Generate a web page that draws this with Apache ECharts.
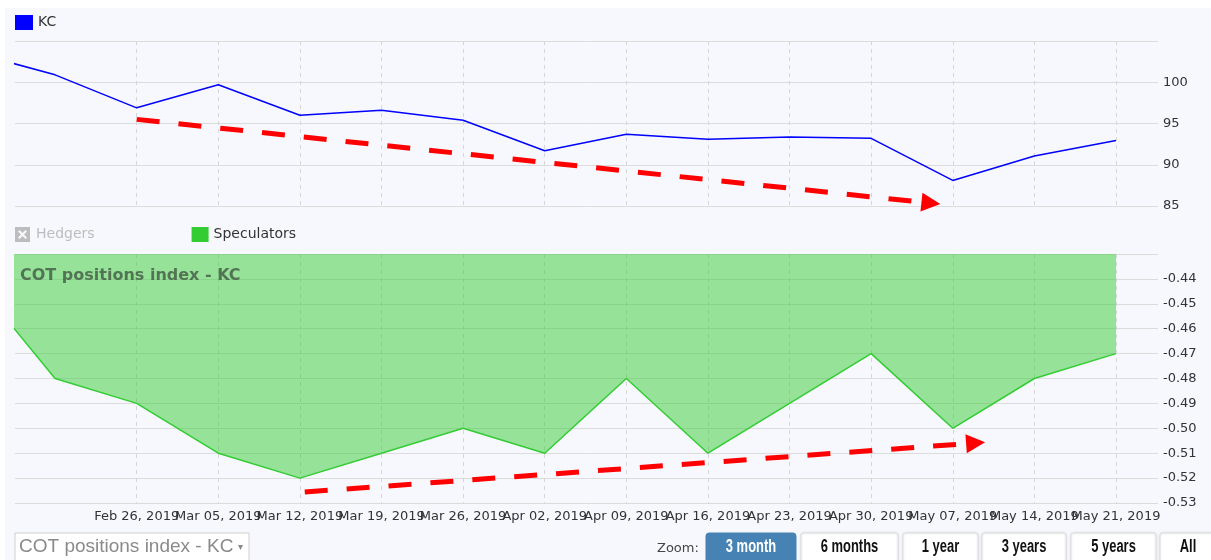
<!DOCTYPE html>
<html style="height: 100%">
<head>
    <meta charset="utf-8">
    <title>COT positions index - KC</title>
    <script src="https://cdn.jsdelivr.net/npm/echarts@6/dist/echarts.min.js"></script>
</head>
<body style="height: 100%; margin: 0; background: #fff">
    <div id="chart" style="width: 1211px; height: 560px"></div>
    <script>
        // weekly report dates (first one sits left of the visible range)
        const weeks = ['2019-02-12', '2019-02-19', '2019-02-26', '2019-03-05', '2019-03-12', '2019-03-19',
            '2019-03-26', '2019-04-02', '2019-04-09', '2019-04-16', '2019-04-23', '2019-04-30',
            '2019-05-07', '2019-05-14', '2019-05-21'];
        const kcPrice = [103.6, 100.9, 96.9, 99.7, 96.0, 96.6, 95.4, 91.7, 93.7, 93.1, 93.35, 93.2, 88.1, 91.05, 92.95];
        const specIndex = [-0.44, -0.48, -0.49, -0.51, -0.52, -0.51, -0.50, -0.51, -0.48, -0.51, -0.49, -0.47, -0.50, -0.48, -0.47];
        const tickDates = weeks.slice(2);
        // hand drawn trend arrows: [date, value] start and end
        const kcTrend = [['2019-02-26T00:00', 95.5], ['2019-05-05T03:00', 85.35]];
        const specTrend = [['2019-03-12T10:00', -0.5256], ['2019-05-08T23:00', -0.5059]];
        const zoomButtons = ['3 month', '6 months', '1 year', '3 years', '5 years', 'All'];
        const months = ['Jan', 'Feb', 'Mar', 'Apr', 'May', 'Jun', 'Jul', 'Aug', 'Sep', 'Oct', 'Nov', 'Dec'];

        // dates -> UTC ms, used as plain numbers on a value axis
        function ts(s) {
            const [d, t] = s.split('T');
            const [y, m, day] = d.split('-').map(Number);
            const [hh, mm] = (t || '00:00').split(':').map(Number);
            return Date.UTC(y, m - 1, day, hh, mm);
        }
        function pad(n) { return n < 10 ? '0' + n : '' + n; }

        const xMin = ts('2019-02-15T13:30');
        const xMax = ts('2019-05-24T14:30');
        const ticks = tickDates.map(ts);
        // blank labels at both ends so echarts doesn't drop the first/last date label
        const labelValues = [xMin].concat(ticks, [xMax]);
        const font = 'DejaVu Sans';

        function xAxis(idx, withLabels) {
            return {
                type: 'value', gridIndex: idx, min: xMin, max: xMax,
                axisLine: { show: false },
                axisTick: { show: false, customValues: ticks },
                axisLabel: {
                    show: withLabels, customValues: labelValues, hideOverlap: false,
                    margin: 7, fontSize: 13, color: '#333', fontFamily: font,
                    formatter: v => {
                        if (v === xMin || v === xMax) return '';
                        const d = new Date(v);
                        return months[d.getUTCMonth()] + ' ' + pad(d.getUTCDate()) + ', ' + d.getUTCFullYear();
                    }
                },
                splitLine: { show: true, lineStyle: { color: '#d6d6d6', type: [4, 4] } }
            };
        }
        function yAxis(idx, min, max, interval, digits) {
            return {
                type: 'value', gridIndex: idx, position: 'right', min: min, max: max, interval: interval,
                axisLine: { show: false }, axisTick: { show: false },
                axisLabel: {
                    showMaxLabel: false, margin: 5, fontSize: 13, color: '#333', fontFamily: font,
                    formatter: v => v.toFixed(digits)
                },
                splitLine: { lineStyle: { color: '#dcdcdc' } }
            };
        }
        function arrow(pts) {
            return {
                silent: true, symbol: ['none', 'triangle'], symbolSize: 19,
                label: { show: false },
                lineStyle: { color: '#ff0000', width: 5, type: [23, 19], opacity: 1 },
                data: [[{ coord: [ts(pts[0][0]), pts[0][1]] }, { coord: [ts(pts[1][0]), pts[1][1]] }]]
            };
        }

        const hedgerIcon = 'path://M0,0L10,0L10,10L0,10Z M4,5L2,7L3,8L5,6L7,8L8,7L6,5L8,3L7,2L5,4L3,2L2,3Z';

        const buttonX = [[706, 796], [801, 898], [903, 978], [982, 1066], [1071, 1156], [1160, 1216]];
        const graphics = [
            { type: 'rect', z: -100, shape: { x: 5, y: 8, width: 1206, height: 552 }, style: { fill: '#f7f8fd' } },
            {
                type: 'text', left: 20, top: 268, z: 100,
                style: { text: 'COT positions index - KC', font: 'bold 16px "DejaVu Sans"', fill: 'rgba(55,70,55,0.7)' }
            },
            { type: 'rect', shape: { x: 15, y: 533, width: 234, height: 32 }, style: { fill: '#fff', stroke: '#cfcfcf' } },
            {
                type: 'text', left: 19, top: 537,
                style: { text: 'COT positions index - KC', font: '19px "Liberation Sans"', fill: '#8a8a8a' }
            },
            { type: 'text', left: 238, top: 542, style: { text: '▾', font: '10px "DejaVu Sans"', fill: '#8a8a8a' } },
            { type: 'text', left: 657, top: 542, style: { text: 'Zoom:', font: '13px "DejaVu Sans"', fill: '#444' } }
        ];
        zoomButtons.forEach((name, i) => {
            const [x0, x1] = buttonX[i];
            const active = i === 0;
            graphics.push({
                type: 'rect',
                shape: { x: x0, y: 533, width: x1 - x0, height: 34, r: 3 },
                style: {
                    fill: active ? '#4682b4' : '#fff', stroke: active ? '#4682b4' : '#e2e2e2',
                    shadowBlur: active ? 0 : 2, shadowColor: 'rgba(0,0,0,0.15)'
                }
            });
            // condensed look: squeeze a bold sans horizontally
            graphics.push({
                type: 'text', x: (x0 + x1) / 2, y: 547, scaleX: 0.72,
                style: {
                    text: name, align: 'center', verticalAlign: 'middle',
                    font: 'bold 18px "Liberation Sans", sans-serif',
                    fill: active ? '#fff' : '#111'
                }
            });
        });

        const option = {
            animation: false,
            backgroundColor: '#fff',
            textStyle: { fontFamily: font },
            legend: [
                {
                    data: [{ name: 'KC', icon: 'rect' }], left: 15, top: 15, padding: 0, itemWidth: 18, itemHeight: 15,
                    itemGap: 5, selectedMode: false, textStyle: { fontSize: 14, color: '#333', fontFamily: font },
                    itemStyle: { borderWidth: 0 }
                },
                {
                    data: [{ name: 'Hedgers', icon: hedgerIcon }, { name: 'Speculators', icon: 'rect' }],
                    left: 15, top: 227, padding: 0, itemWidth: 17, itemHeight: 15, itemGap: 97,
                    selected: { Hedgers: false }, inactiveColor: '#bdbdbd',
                    textStyle: { fontSize: 14, color: '#333', fontFamily: font },
                    itemStyle: { borderWidth: 0 }
                }
            ],
            grid: [
                { left: 15, right: 53, top: 41, height: 165 },
                { left: 15, right: 53, top: 254, height: 249 }
            ],
            xAxis: [xAxis(0, false), xAxis(1, true)],
            yAxis: [yAxis(0, 85, 105, 5, 0), yAxis(1, -0.53, -0.43, 0.01, 2)],
            graphic: graphics,
            series: [
                {
                    name: 'KC', type: 'line', xAxisIndex: 0, yAxisIndex: 0, symbol: 'none',
                    color: '#0000ff', lineStyle: { width: 1.5 },
                    data: weeks.map((w, i) => [ts(w), kcPrice[i]]),
                    markLine: arrow(kcTrend)
                },
                {
                    name: 'Hedgers', type: 'line', xAxisIndex: 1, yAxisIndex: 1, symbol: 'none',
                    color: '#888', data: []
                },
                {
                    name: 'Speculators', type: 'line', xAxisIndex: 1, yAxisIndex: 1, symbol: 'none',
                    color: '#33cc33', lineStyle: { width: 1.5 },
                    areaStyle: { origin: 'end', color: '#33cc33', opacity: 0.5 },
                    data: weeks.map((w, i) => [ts(w), specIndex[i]]),
                    markLine: arrow(specTrend)
                }
            ]
        };

        const chart = echarts.init(document.getElementById('chart'), null, { renderer: 'canvas' });
        chart.setOption(option);
    </script>
</body>
</html>
